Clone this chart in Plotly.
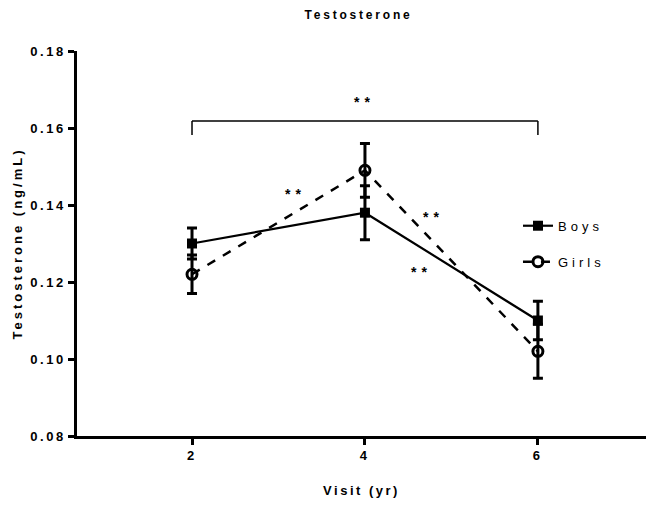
import plotly.graph_objects as go

visits = [2, 4, 6]
boys_mean = [0.130, 0.138, 0.110]
boys_err = [0.004, 0.007, 0.005]
girls_mean = [0.122, 0.149, 0.102]
girls_err = [0.005, 0.007, 0.007]
y_ticks = [0.08, 0.10, 0.12, 0.14, 0.16, 0.18]
x_ticks = [2, 4, 6]

FONT = "Liberation Sans, Arial, sans-serif"

fig = go.Figure()
fig.add_trace(go.Scatter(
    x=visits, y=boys_mean, name="Boys", mode="lines+markers", legendgroup="boys",
    line=dict(color="black", width=2.2),
    marker=dict(symbol="square", size=10, color="black"),
    error_y=dict(type="data", array=boys_err, visible=True, color="black", thickness=3, width=5),
))
fig.add_trace(go.Scatter(
    x=visits, y=girls_mean, name="Girls", mode="lines+markers", legendgroup="girls",
    line=dict(color="black", width=2.5, dash="dash"),
    marker=dict(symbol="circle-open", size=10, color="black", line=dict(width=3)),
    error_y=dict(type="data", array=girls_err, visible=True, color="black", thickness=3, width=5),
))

# significance bracket
fig.add_shape(type="line", x0=2, x1=6, y0=0.1618, y1=0.1618, line=dict(color="black", width=1.5))
fig.add_shape(type="line", x0=2, x1=2, y0=0.1618, y1=0.1582, line=dict(color="black", width=1.5))
fig.add_shape(type="line", x0=6, x1=6, y0=0.1618, y1=0.1582, line=dict(color="black", width=1.5))

stars = [(4, 0.1668), (3.2, 0.1428), (4.79, 0.1370), (4.65, 0.1226)]
for sx, sy in stars:
    fig.add_annotation(x=sx, y=sy, text="<b>**</b>", showarrow=False,
                       font=dict(family=FONT, size=14, color="black"))

fig.update_layout(
    width=646, height=505,
    margin=dict(l=77, r=0, t=51, b=69),
    paper_bgcolor="white", plot_bgcolor="white",
    font=dict(family=FONT, color="black"),
    title=dict(text="<b>Testosterone</b>", x=0.555, xanchor="center", y=0.970, yanchor="middle",
               font=dict(size=12, family=FONT)),
    legend=dict(x=0.775, y=0.585, xanchor="left", yanchor="top", bgcolor="rgba(0,0,0,0)",
                font=dict(size=13, family=FONT), tracegroupgap=16, itemwidth=30),
    showlegend=True,
)
fig.update_xaxes(
    range=[0.67, 7.25], tickvals=x_ticks, ticktext=[f"<b>{v}</b>" for v in x_ticks],
    showline=True, linecolor="black", linewidth=2.5, ticks="outside", ticklen=6, tickwidth=2.5,
    tickcolor="black", showgrid=False, zeroline=False, tickfont=dict(size=13, family=FONT),
    title=dict(text="<b>Visit (yr)</b>", font=dict(size=13, family=FONT), standoff=24),
)
fig.update_yaxes(
    range=[0.08, 0.18], tickvals=y_ticks,
    ticktext=[f"<b>{v:.2f}</b>" for v in y_ticks],
    showline=True, linecolor="black", linewidth=2.5, ticks="outside", ticklen=6, tickwidth=2.5,
    tickcolor="black", showgrid=False, zeroline=False, tickfont=dict(size=13, family=FONT),
    title=dict(text="<b>Testosterone (ng/mL)</b>", font=dict(size=13, family=FONT), standoff=15),
)

post = """
(function(){
  var gd = document.getElementById('{plot_id}');
  function apply(){
    function ls(sel, v){ gd.querySelectorAll(sel).forEach(function(t){ t.style.letterSpacing = v; }); }
    ls('.ytick text', '2.5px');
    ls('.xtick text', '3px');
    ls('.gtitle', '2.8px');
    ls('.g-xtitle text', '2.5px');
    ls('.g-ytitle text', '3px');
    ls('.legendtext', '4px');
    ls('.annotation-text', '5px');
    gd.querySelectorAll('.legend [clip-path]').forEach(function(e){ e.removeAttribute('clip-path'); });
    gd.querySelectorAll('.legend').forEach(function(e){ e.style.overflow = 'visible'; });
  }
  apply();
  setTimeout(apply, 0);
  if (gd.on) { gd.on('plotly_afterplot', apply); }
})();
"""

fig.write_html("out.html", post_script=post)
